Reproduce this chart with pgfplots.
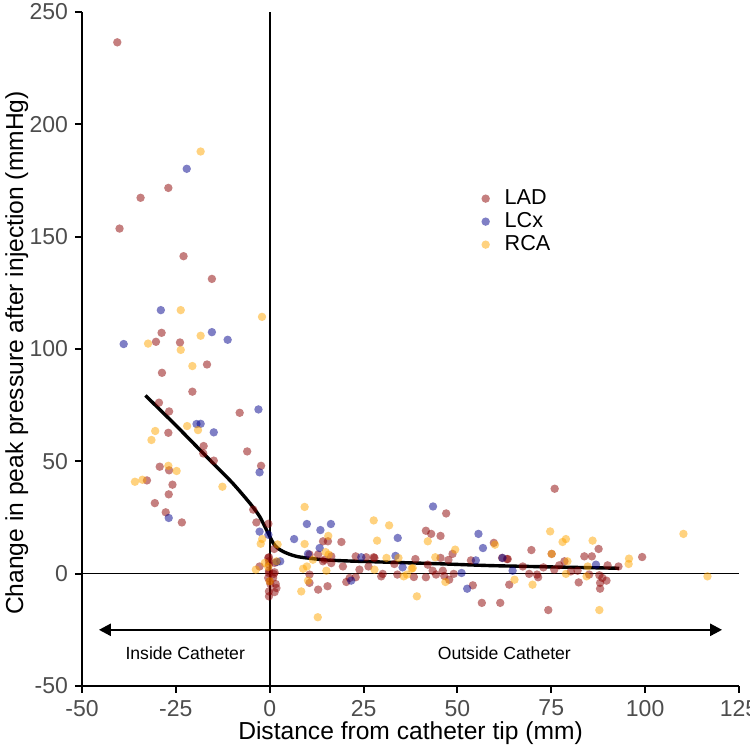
\documentclass[border=0pt]{standalone}
\usepackage{pgfplots}
\pgfplotsset{compat=1.18}
\usepackage{pgfplotstable}
\usepackage{fontspec}
\setmainfont{Liberation Sans}
\usetikzlibrary{arrows.meta}
\definecolor{ladc}{HTML}{8B0000}
\definecolor{lcxc}{HTML}{00008B}
\definecolor{rcac}{HTML}{FFA500}
\definecolor{tickgray}{HTML}{4D4D4D}

\pgfplotstableread{
x y
-40.6 236.5
-27.0 171.7
-34.4 167.3
-40.0 153.6
-22.95 141.3
-15.4 131.2
-28.8 107.2
-30.3 103.2
-23.9 102.9
-16.7 93.1
-28.7 89.4
-20.6 81.0
-29.5 76.1
-26.8 72.2
-8.0 71.6
-27.0 62.7
-17.6 56.8
-17.7 53.5
-14.9 50.3
-6.0 54.4
-2.3 48.0
-29.3 47.6
-26.8 46.0
-32.7 41.5
-25.9 39.6
-26.9 35.3
-30.6 31.4
-27.7 27.3
-23.4 22.8
-4.4 28.5
-3.55 22.8
-0.35 22.2
14.2 14.4
15.5 14.4
19.1 14.1
12.9 8.5
10.6 8.5
14.6 6.2
16.4 4.7
19.5 3.2
10.6 -0.4
10.6 -4.1
12.9 -7.1
15.4 -5.6
-0.2 7.3
-0.2 4.0
-0.2 1.3
1.1 -0.1
-0.4 -1.9
1.6 -4.6
0.2 -4.6
-0.2 -7.9
1.3 -8.2
-2.7 3.2
21.3 -1.9
20.4 -3.7
22.9 -1.6
23.9 1.8
22.9 7.7
25.7 7.3
27.7 7.3
26.3 3.2
16.4 7.7
14.2 5.5
47.0 26.8
41.6 19.1
43.0 17.7
45.5 16.8
59.7 13.7
48.7 8.8
45.5 7.0
47.6 6.1
53.6 5.9
38.8 6.5
27.9 7.0
33.2 4.3
30.1 -0.1
29.7 -1.2
34.0 -0.4
38.4 -1.5
41.6 -1.6
42.1 4.0
43.4 1.3
44.3 -0.4
46.1 1.3
46.5 -1.0
47.8 -2.7
49.0 -0.1
54.1 -5.2
56.5 -13.0
61.4 -13.0
87.6 11.0
69.7 10.5
75.1 8.8
83.8 7.7
85.8 7.7
63.4 6.5
78.5 5.5
90.0 3.7
92.9 3.2
67.4 3.2
72.9 2.8
77.1 3.7
80.2 1.0
75.8 1.8
82.0 1.3
85.1 -0.4
87.8 -0.7
88.6 -1.9
89.7 -3.1
88.0 -4.1
88.0 -6.7
82.3 -3.9
63.8 -4.9
69.1 -0.1
71.2 -0.4
71.5 -1.6
74.2 -16.2
99.2 7.4
75.9 37.8
61.9 7.0
63.2 6.5
1.2 11.0
-0.4 7.0
-0.2 5.5
1.3 4.8
-0.2 0.3
1.3 0.6
0.9 -1.9
0.0 -3.4
1.8 -6.4
-0.2 -10.1
}\lad

\pgfplotstableread{
x y
-22.1 180.2
-29.0 117.3
-15.4 107.5
-38.9 102.2
-11.2 104.1
-3.0 73.1
-19.5 66.6
-18.4 66.7
-14.9 62.9
-2.7 45.1
-26.9 24.8
-2.7 18.7
-0.35 17.3
9.9 22.1
13.5 19.4
16.3 22.1
6.5 15.4
13.3 11.4
10.2 8.8
2.8 5.5
1.9 5.2
21.7 -3.1
24.4 7.3
43.5 29.9
34.1 15.9
55.6 17.7
56.8 11.4
54.9 5.9
62.0 7.0
33.5 7.9
35.4 2.8
51.1 0.3
52.6 -6.7
86.9 4.0
64.7 1.3
}\lcx

\pgfplotstableread{
x y
-18.4 187.9
-23.7 117.3
-2.05 114.3
-32.4 102.4
-23.7 99.6
-18.4 105.9
-20.6 92.4
-22.0 65.7
-19.1 63.9
-30.5 63.5
-31.5 59.5
-27.0 48.0
-24.8 45.7
-35.9 40.9
-33.9 41.8
-12.6 38.7
-2.0 15.4
-2.4 13.3
2.1 13.0
9.3 29.7
15.6 16.8
9.3 13.2
27.7 23.7
28.6 14.7
14.9 9.6
11.5 6.2
9.9 3.2
8.9 2.2
15.1 1.3
10.2 -3.1
8.4 -7.9
12.8 -19.4
1.8 5.5
-3.7 1.8
-1.3 4.8
0.0 -3.4
15.7 8.5
31.8 21.5
42.1 14.4
60.0 12.9
49.4 10.7
44.1 7.3
31.1 7.0
34.3 7.0
37.8 2.2
36.6 -0.4
35.7 -1.2
46.8 -3.7
39.2 -10.1
74.7 18.8
78.0 14.1
78.9 15.4
86.0 14.7
75.1 8.8
79.3 5.5
95.7 6.7
95.6 4.3
78.9 -0.1
84.7 3.2
84.4 -1.2
65.2 -2.7
70.0 -4.9
87.8 -16.2
110.2 17.7
116.6 -1.2
-0.4 3.0
27.9 1.8
38.1 2.5
}\rca

\pgfplotstableread{
x y
-33.1 79.3
-25.0 66.0
-16.9 52.2
-10.0 40.5
-5.3 31.4
-2.7 25.5
-0.45 18.1
0.9 13.7
2.0 11.5
3.5 9.9
5.5 8.5
8.0 7.4
14.2 6.2
20.0 5.7
27.5 5.3
45.2 4.4
58.5 3.6
75.0 3.0
93.1 2.4
}\fit

\begin{document}
\begin{tikzpicture}
\begin{axis}[
  at={(0,0)}, anchor=south west,
  width=328.5pt, height=337pt, scale only axis,
  xmin=-50, xmax=125, ymin=-50, ymax=250,
  axis x line=bottom, axis y line=left,
  axis line style={line width=1.2pt, -},
  xtick={-50,-25,0,25,50,75,100,125},
  ytick={-50,0,50,100,150,200,250},
  xticklabels={-50,-25,0,25,50,75,100,125},
  yticklabels={-50,0,50,100,150,200,250},
  tick align=outside, major tick length=3.5pt,
  tick style={line width=1pt, black},
  ticklabel style={font=\fontsize{11.5}{13}\selectfont, text=tickgray},
  xlabel={Distance from catheter tip (mm)},
  ylabel={Change in peak pressure after injection (mmHg)},
  label style={font=\fontsize{12.3}{14}\selectfont},
  xlabel style={at={([yshift=-17.5pt]axis description cs:0.5,0)}, anchor=north, inner sep=0pt},
  ylabel style={at={([xshift=-38.5pt,yshift=-2pt]axis description cs:0,0.5)}, anchor=north, inner sep=0pt},
  legend style={at={(axis cs:54.7,174)}, anchor=north west, draw=none, fill=none,
    font=\fontsize{10.8}{12}\selectfont, row sep=0pt, column sep=0pt,
    nodes={inner sep=0pt, text height=8.5pt, text depth=3pt}},
  legend cell align=left,
  legend image code/.code={\path[draw=none, fill=none] (-2.1pt,0pt) -- (9.5pt,0pt); \draw[#1] plot coordinates {(0pt,0pt)};},
]
\draw[line width=0.8pt] (axis cs:0,-50) -- (axis cs:0,250);
\draw[line width=0.8pt] (axis cs:-50,0) -- (axis cs:125,0);

\addplot[only marks, mark=*, mark size=2.1pt, color=ladc, mark options={fill=ladc, fill opacity=0.5, draw opacity=0}] table[x=x,y=y] {\lad};
\addlegendentry{LAD}
\addplot[only marks, mark=*, mark size=2.1pt, color=lcxc, mark options={fill=lcxc, fill opacity=0.5, draw opacity=0}] table[x=x,y=y] {\lcx};
\addlegendentry{LCx}
\addplot[only marks, mark=*, mark size=2.1pt, color=rcac, mark options={fill=rcac, fill opacity=0.5, draw opacity=0}] table[x=x,y=y] {\rca};
\addlegendentry{RCA}

\addplot[forget plot, black, line width=1.7pt, smooth, tension=0.4] table[x=x,y=y] {\fit};

\draw[line width=1.2pt, {Triangle[length=6pt,width=6pt]}-{Triangle[length=6pt,width=6pt]}] (axis cs:-45.5,-25) -- (axis cs:120.5,-25);
\node[font=\fontsize{8.8}{10}\selectfont] at (axis cs:-22.5,-35.6) {Inside Catheter};
\node[font=\fontsize{8.8}{10}\selectfont] at (axis cs:62.5,-35.6) {Outside Catheter};
\end{axis}
\pgfresetboundingbox
\useasboundingbox (-41pt,-30.5pt) rectangle (334pt,343pt);
\end{tikzpicture}
\end{document}
